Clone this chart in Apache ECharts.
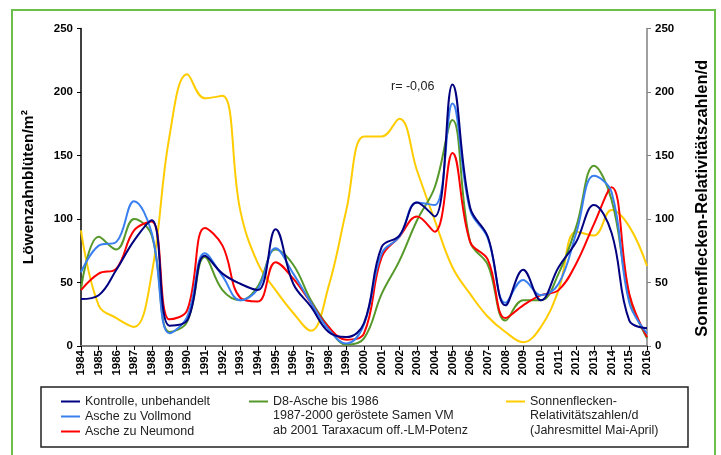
<!DOCTYPE html>
<html>
<head>
<meta charset="utf-8">
<title>Löwenzahnblüten und Sonnenflecken</title>
<script src="https://cdn.jsdelivr.net/npm/echarts@6/dist/echarts.min.js"></script>
<style>
  html, body { margin: 0; padding: 0; background: #fff; }
  #chart { width: 721px; height: 455px; }
</style>
</head>
<body>
<div id="chart"></div>
<script>
// Jahre 1984 - 2016
var years = ['1984', '1985', '1986', '1987', '1988', '1989', '1990', '1991', '1992', '1993', '1994',
  '1995', '1996', '1997', '1998', '1999', '2000', '2001', '2002', '2003', '2004', '2005',
  '2006', '2007', '2008', '2009', '2010', '2011', '2012', '2013', '2014', '2015', '2016']

// Löwenzahnblüten/m2 (linke Achse)
var kontrolle = [37, 40, 60, 83, 99, 16, 20, 71, 57, 49, 44, 92, 49, 31, 11, 7, 18, 78, 87,
  113, 102, 206, 109, 86, 32, 60, 36, 62, 82, 111, 89, 20, 14]
var vollmond = [58, 79, 82, 114, 89, 10, 23, 73, 55, 36, 45, 77, 57, 34, 13, 2, 17, 73, 86,
  113, 111, 191, 107, 85, 34, 52, 40, 49, 89, 134, 121, 34, 10]
var neumond = [44, 57, 61, 91, 98, 21, 28, 93, 79, 38, 35, 66, 53, 34, 15, 5, 10, 70, 86,
  102, 90, 152, 82, 68, 22, 32, 40, 44, 65, 96, 125, 41, 7]
var d8asche = [45, 86, 76, 100, 87, 11, 19, 70, 44, 36, 47, 76, 64, 36, 15, 1, 6, 41, 67,
  99, 125, 178, 82, 64, 20, 36, 36, 57, 94, 142, 115, 39, 6]

// Sonnenflecken-Relativitätszahlen/d (rechte Achse)
var sonnenflecken = [91, 32, 22, 15, 57, 165, 214, 195, 197, 107, 65, 44, 26, 12, 47, 107, 165,
  165, 179, 138, 99, 62, 41, 23, 11, 3, 15, 44, 90, 87, 107, 94, 63]

var yTicks = [0, 50, 100, 150, 200, 250]

var font = '"Liberation Sans", Arial, sans-serif'
var colors = {
  kontrolle: '#000080',
  vollmond: '#3a7ff0',
  neumond: '#ff0000',
  d8: '#56992a',
  sonne: '#ffcc00',
}

var mychart = echarts.init(document.getElementById('chart'))

function lineSeries(name, data, color, axis, z) {
  return {
    name: name,
    type: 'line',
    data: data,
    yAxisIndex: axis,
    smooth: 0.4,
    showSymbol: false,
    symbol: 'none',
    z: z,
    color: color,
    lineStyle: { width: 2, color: color },
  }
}

var legendBase = {
  orient: 'vertical',
  icon: 'rect',
  itemWidth: 19,
  itemHeight: 2,
  itemGap: 2,
  padding: 0,
  textStyle: { fontFamily: font, fontSize: 12.5, color: '#222' },
}

var option = {
  animation: false,
  backgroundColor: '#fff',
  grid: { left: 81, right: 74, top: 28.5, bottom: 109 },
  xAxis: [
    {
      type: 'category',
      data: years,
      boundaryGap: false,
      axisLine: { lineStyle: { color: '#000', width: 1.5 } },
      axisTick: { show: true, interval: 0, length: 4, lineStyle: { color: '#000' } },
      axisLabel: {
        interval: 0,
        rotate: 90,
        margin: 4,
        fontFamily: font,
        fontSize: 11.5,
        fontWeight: 'bold',
        color: '#000',
      },
      splitLine: { show: false },
    },
    {
      // obere Rahmenlinie
      type: 'category',
      data: years,
      boundaryGap: false,
      position: 'top',
      axisLine: { lineStyle: { color: '#808080', width: 2 } },
      axisTick: { show: false },
      axisLabel: { show: false },
      splitLine: { show: false },
    },
  ],
  yAxis: [
    {
      type: 'value',
      min: yTicks[0],
      max: yTicks[yTicks.length - 1],
      interval: 50,
      name: 'Löwenzahnblüten/m²',
      nameLocation: 'middle',
      nameGap: 44,
      nameTextStyle: { fontFamily: font, fontSize: 15.5, fontWeight: 'bold', color: '#000' },
      axisLine: { show: true, lineStyle: { color: '#000', width: 1.5 } },
      axisTick: { show: true, length: 4, lineStyle: { color: '#000' } },
      axisLabel: { fontFamily: font, fontSize: 11.5, fontWeight: 'bold', color: '#000', margin: 8 },
      splitLine: { show: false },
    },
    {
      type: 'value',
      min: yTicks[0],
      max: yTicks[yTicks.length - 1],
      interval: 50,
      position: 'right',
      name: 'Sonnenflecken-Relativitätszahlen/d',
      nameLocation: 'middle',
      nameGap: 47,
      nameRotate: 90,
      nameTextStyle: {
        fontFamily: font,
        fontSize: 16.5,
        fontWeight: 'bold',
        color: '#000',
        padding: [0, 22, 0, 0],
      },
      axisLine: { show: true, lineStyle: { color: '#808080', width: 1.5 } },
      axisTick: { show: true, length: 4, lineStyle: { color: '#808080' } },
      axisLabel: { fontFamily: font, fontSize: 11.5, fontWeight: 'bold', color: '#000', margin: 8 },
      splitLine: { show: false },
    },
  ],
  legend: [
    Object.assign({}, legendBase, {
      left: 61,
      top: 395,
      data: ['Kontrolle, unbehandelt', 'Asche zu Vollmond', 'Asche zu Neumond'],
    }),
    Object.assign({}, legendBase, {
      left: 249,
      top: 395,
      data: ['D8-Asche bis 1986'],
    }),
    Object.assign({}, legendBase, {
      left: 506,
      top: 395,
      data: ['Sonnenflecken-'],
    }),
  ],
  graphic: [
    // äußerer grüner Rahmen
    {
      type: 'rect',
      shape: { x: 12, y: 10, width: 703, height: 470 },
      style: { fill: 'none', stroke: '#6cbf4a', lineWidth: 2 },
      silent: true,
      z: -1,
    },
    // Legendenrahmen
    {
      type: 'rect',
      shape: { x: 41, y: 387, width: 647, height: 60 },
      style: { fill: 'none', stroke: '#222', lineWidth: 1.5 },
      silent: true,
    },
    {
      type: 'text',
      left: 273,
      top: 409,
      style: { text: '1987-2000 geröstete Samen VM', font: '12.5px ' + font, fill: '#222' },
    },
    {
      type: 'text',
      left: 273,
      top: 424,
      style: { text: 'ab 2001 Taraxacum off.-LM-Potenz', font: '12.5px ' + font, fill: '#222' },
    },
    {
      type: 'text',
      left: 530,
      top: 409,
      style: { text: 'Relativitätszahlen/d', font: '12.5px ' + font, fill: '#222' },
    },
    {
      type: 'text',
      left: 530,
      top: 424,
      style: { text: '(Jahresmittel Mai-April)', font: '12.5px ' + font, fill: '#222' },
    },
    // Korrelationskoeffizient
    {
      type: 'text',
      left: 391,
      top: 80,
      style: { text: 'r= -0,06', font: '12.5px ' + font, fill: '#222' },
    },
  ],
  series: [
    lineSeries('Sonnenflecken-', sonnenflecken, colors.sonne, 1, 2),
    lineSeries('D8-Asche bis 1986', d8asche, colors.d8, 0, 3),
    lineSeries('Asche zu Neumond', neumond, colors.neumond, 0, 4),
    lineSeries('Asche zu Vollmond', vollmond, colors.vollmond, 0, 5),
    lineSeries('Kontrolle, unbehandelt', kontrolle, colors.kontrolle, 0, 6),
  ],
}

mychart.setOption(option, true)
window.addEventListener('resize', function () {
  mychart.resize()
})
</script>
</body>
</html>
